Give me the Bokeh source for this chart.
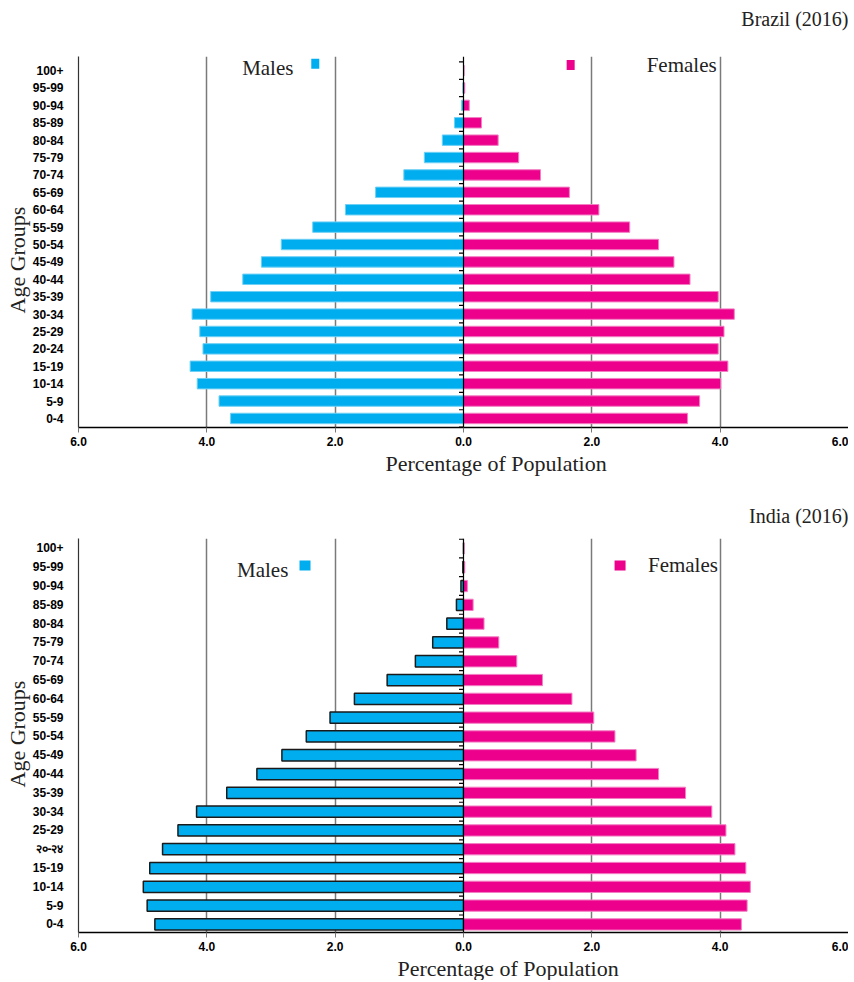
import math
from bokeh.plotting import figure
from bokeh.models import (ColumnDataSource, Range1d, FixedTicker, Label, Span, Title)
from bokeh.layouts import column
from bokeh.embed import file_html
from bokeh.resources import INLINE

# ---------------- data ----------------
age_groups = ["0-4", "5-9", "10-14", "15-19", "20-24", "25-29", "30-34", "35-39",
              "40-44", "45-49", "50-54", "55-59", "60-64", "65-69", "70-74",
              "75-79", "80-84", "85-89", "90-94", "95-99", "100+"]
age_groups_india = ["0-4", "5-9", "10-14", "15-19", "२०-२४", "25-29", "30-34", "35-39",
                    "40-44", "45-49", "50-54", "55-59", "60-64", "65-69", "70-74",
                    "75-79", "80-84", "85-89", "90-94", "95-99", "100+"]

brazil_males = [3.63, 3.81, 4.15, 4.26, 4.06, 4.11, 4.23, 3.94, 3.44, 3.15, 2.84,
                2.35, 1.84, 1.37, 0.93, 0.61, 0.33, 0.14, 0.03, 0.01, 0.0]
brazil_females = [3.49, 3.68, 4.01, 4.12, 3.97, 4.06, 4.22, 3.97, 3.53, 3.28, 3.04,
                  2.59, 2.11, 1.65, 1.20, 0.86, 0.54, 0.28, 0.09, 0.02, 0.01]

india_males = [4.81, 4.93, 4.99, 4.89, 4.69, 4.45, 4.16, 3.69, 3.22, 2.83, 2.45,
               2.08, 1.70, 1.19, 0.75, 0.48, 0.26, 0.11, 0.04, 0.01, 0.0]
india_females = [4.33, 4.42, 4.47, 4.40, 4.23, 4.09, 3.87, 3.46, 3.04, 2.69, 2.36,
                 2.03, 1.69, 1.23, 0.83, 0.55, 0.32, 0.15, 0.06, 0.02, 0.01]

x_ticks = [-6, -4, -2, 0, 2, 4, 6]
x_tick_labels = ["6.0", "4.0", "2.0", "0.0", "2.0", "4.0", "6.0"]

MALE = "#00AEEF"
FEMALE = "#EC008C"
SERIF = "Liberation Serif"
NARROW = "'Liberation Sans Narrow', 'Liberation Sans', sans-serif"
TXT = "#222222"


def pyramid(title, labels, males, females, y_lo, y_hi, frame_h, top_b, bot_b,
            male_line, male_lw, legend, spacer, title_standoff,
            xlab_offset, ylab_offset):
    p = figure(width=848, height=top_b + frame_h + bot_b,
               frame_width=770, frame_height=frame_h,
               min_border_left=78, min_border_right=0,
               min_border_top=top_b, min_border_bottom=bot_b,
               x_range=Range1d(-6, 6), y_range=Range1d(y_lo, y_hi),
               output_backend="svg", toolbar_location=None)
    p.outline_line_color = None
    p.background_fill_color = "white"

    # titles (in side panels so they are not clipped); first added is nearest the frame
    if spacer:
        p.add_layout(Title(text=" ", text_font=SERIF, text_font_size="20px", standoff=0),
                     "above")
    p.add_layout(Title(text=title, align="right", text_font=SERIF, text_font_size="20px",
                       text_font_style="normal", text_color=TXT,
                       standoff=title_standoff), "above")
    p.add_layout(Title(text="Percentage of Population", align="left", offset=xlab_offset,
                       text_font=SERIF, text_font_size="22px", text_font_style="normal",
                       text_color=TXT, standoff=0), "below")
    p.add_layout(Title(text="Age Groups", align="left", offset=ylab_offset,
                       text_font=SERIF, text_font_size="22px", text_font_style="normal",
                       text_color=TXT, standoff=0), "left")

    idx = list(range(len(labels)))
    src = ColumnDataSource(dict(y=idx, m=[-v for v in males], f=females))

    # grid
    p.ygrid.visible = False
    p.xgrid.ticker = FixedTicker(ticks=[-4, -2, 2, 4, 6])
    p.xgrid.grid_line_color = "#7a7a7a"
    p.xgrid.grid_line_width = 1.5

    p.hbar(y="y", left="m", right=0, height=0.6, source=src,
           fill_color=MALE, line_color=male_line, line_width=male_lw)
    p.hbar(y="y", left=0, right="f", height=0.6, source=src,
           fill_color=FEMALE, line_color="#f37ec3", line_width=1)

    # center line with row ticks
    p.add_layout(Span(location=0, dimension="height", line_color="black", line_width=1.2))
    bounds = [i + 0.5 for i in range(-1, len(labels))]
    p.segment(x0=[-0.07] * len(bounds), x1=[0] * len(bounds), y0=bounds, y1=bounds,
              line_color="black", line_width=1.2)

    # axes
    p.xaxis.ticker = FixedTicker(ticks=x_ticks)
    p.xaxis.major_label_overrides = {t: s for t, s in zip(x_ticks, x_tick_labels)}
    p.xaxis.major_label_text_font = NARROW
    p.xaxis.major_label_text_font_style = "bold"
    p.xaxis.major_label_text_font_size = "12px"
    p.xaxis.major_label_text_color = "black"
    p.xaxis.major_tick_in = 0
    p.xaxis.major_tick_out = 5
    p.xaxis.major_tick_line_color = "#777777"
    p.xaxis.minor_tick_line_color = None
    p.xaxis.major_label_standoff = 4
    p.xaxis.axis_line_color = "black"
    p.xaxis.axis_line_width = 1.5

    p.yaxis.ticker = FixedTicker(ticks=idx)
    p.yaxis.major_label_overrides = {i: s for i, s in zip(idx, labels)}
    p.yaxis.major_label_text_font = NARROW
    p.yaxis.major_label_text_font_style = "bold"
    p.yaxis.major_label_text_font_size = "12px"
    p.yaxis.major_label_text_color = "black"
    p.yaxis.major_tick_line_color = None
    p.yaxis.minor_tick_line_color = None
    p.yaxis.major_label_standoff = 9
    p.yaxis.axis_line_color = "#333333"
    p.yaxis.axis_line_width = 1.2

    # legend
    (mx, my, msx, msy, fsx, fsy, fx, fy, sw, sh) = legend
    p.add_layout(Label(x=mx, y=my, text="Males", text_align="center", text_baseline="middle",
                       text_font=SERIF, text_font_size="21px", text_color=TXT))
    p.add_layout(Label(x=fx, y=fy, text="Females", text_align="center", text_baseline="middle",
                       text_font=SERIF, text_font_size="21px", text_color=TXT))
    p.rect(x=[msx], y=[msy], width=sw, height=sh, width_units="screen",
           height_units="screen", fill_color=MALE, line_color=None)
    p.rect(x=[fsx], y=[fsy], width=sw, height=sh, width_units="screen",
           height_units="screen", fill_color=FEMALE, line_color=None)
    return p


p1 = pyramid("Brazil (2016)", age_groups, brazil_males, brazil_females,
             -0.52, 20.81, 371, 56, 53, "#6fd0f5", 1,
             (-3.05, 20.17, -2.31, 20.4, 1.67, 20.32, 3.40, 20.34, 8, 10),
             True, 5, 307, 114)
p2 = pyramid("India (2016)", age_groups_india, india_males, india_females,
             -0.43, 20.53, 394, 58, 48, "#1a1a1a", 1.5,
             (-3.13, 18.88, -2.47, 19.1, 2.44, 19.1, 3.42, 19.1, 11, 10),
             False, 24, 319, 145)

layout = column(p1, p2, spacing=0)
open("out.html", "w").write(file_html(layout, INLINE))
